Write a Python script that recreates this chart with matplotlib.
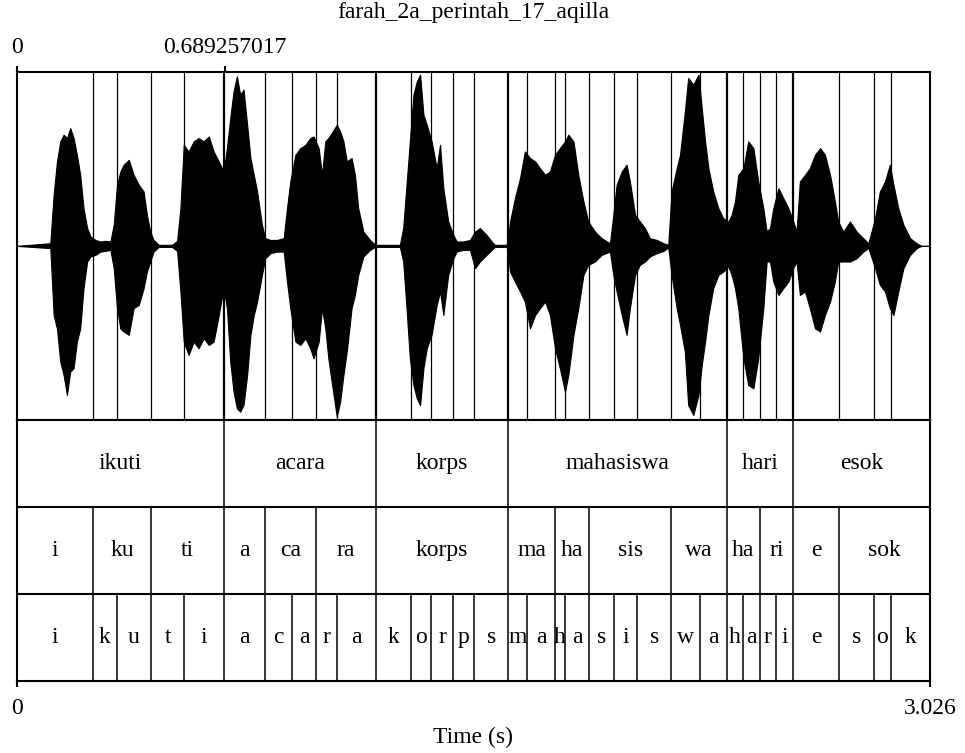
import matplotlib
matplotlib.use("Agg")
import matplotlib.pyplot as plt

plt.rcParams['font.family'] = ['Liberation Serif', 'DejaVu Serif']

title = "farah_2a_perintah_17_aqilla"
duration = 3.026
cursor = 0.689257017

# waveform envelope: time (s), upper and lower peak
wave_t = [0.000, 0.112, 0.123, 0.134, 0.145, 0.156, 0.167, 0.178, 0.189, 0.200,
          0.211, 0.222, 0.234, 0.245, 0.261, 0.278, 0.294, 0.311, 0.322, 0.333,
          0.344, 0.355, 0.372, 0.388, 0.405, 0.421, 0.432, 0.443, 0.454, 0.471,
          0.515, 0.532, 0.543, 0.554, 0.570, 0.587, 0.603, 0.620, 0.637, 0.653,
          0.670, 0.686, 0.697, 0.708, 0.719, 0.730, 0.741, 0.752, 0.764, 0.775,
          0.786, 0.797, 0.813, 0.824, 0.841, 0.863, 0.885, 0.896, 0.907, 0.924,
          0.940, 0.957, 0.973, 0.984, 1.001, 1.012, 1.023,
          1.033, 1.044, 1.061, 1.072, 1.083, 1.094, 1.110, 1.121, 1.132, 1.149,
          1.171, 1.188, 1.270, 1.281, 1.292, 1.303, 1.315, 1.326, 1.337, 1.348,
          1.359, 1.375, 1.392, 1.403, 1.414, 1.430, 1.447, 1.458, 1.480, 1.502,
          1.519, 1.535, 1.557, 1.574, 1.585, 1.624, 1.635, 1.651, 1.668, 1.684,
          1.701, 1.718, 1.734, 1.751, 1.767, 1.784, 1.800, 1.817, 1.828, 1.845,
          1.861, 1.878, 1.894, 1.916, 1.938, 1.966, 1.977, 1.988, 2.005, 2.021,
          2.032, 2.049, 2.065, 2.082, 2.098, 2.121, 2.143, 2.159, 2.170, 2.187,
          2.198, 2.214, 2.225, 2.242, 2.259, 2.270, 2.281, 2.292, 2.308, 2.325,
          2.341, 2.358, 2.369, 2.380, 2.391, 2.408, 2.424, 2.441, 2.457, 2.474,
          2.485, 2.496, 2.507, 2.524, 2.540, 2.557, 2.573, 2.584, 2.595, 2.612,
          2.628, 2.645, 2.662, 2.678, 2.695, 2.711, 2.722, 2.739, 2.761, 2.783,
          2.805, 2.822, 2.844, 2.860, 2.877, 2.893, 2.905, 2.921, 2.938, 2.960,
          2.982, 2.998, 3.026]
wave_hi = [0.0, 0.015, 0.293, 0.485, 0.600, 0.638, 0.619, 0.676, 0.619, 0.523,
           0.408, 0.216, 0.102, 0.054, 0.034, 0.025, 0.029, 0.025, 0.121, 0.351,
           0.427, 0.466, 0.494, 0.408, 0.351, 0.312, 0.178, 0.082, 0.034, 0.006,
           0.006, 0.029, 0.216, 0.580, 0.542, 0.600, 0.619, 0.600, 0.628, 0.542,
           0.485, 0.427, 0.561, 0.734, 0.887, 0.973, 0.868, 0.897, 0.695, 0.504,
           0.408, 0.312, 0.121, 0.044, 0.034, 0.034, 0.044, 0.216, 0.370, 0.523,
           0.561, 0.580, 0.619, 0.628, 0.561, 0.408, 0.600,
           0.619, 0.648, 0.695, 0.657, 0.600, 0.485, 0.504, 0.408, 0.216, 0.082,
           0.034, 0.006, 0.006, 0.102, 0.351, 0.600, 0.868, 0.944, 0.983, 0.753,
           0.695, 0.600, 0.446, 0.580, 0.331, 0.140, 0.063, 0.025, 0.025, 0.034,
           0.082, 0.102, 0.063, 0.025, 0.006, 0.006, 0.140, 0.274, 0.389, 0.542,
           0.504, 0.485, 0.446, 0.408, 0.427, 0.523, 0.561, 0.600, 0.638, 0.600,
           0.408, 0.255, 0.140, 0.082, 0.044, 0.015, 0.178, 0.351, 0.427, 0.466,
           0.370, 0.178, 0.140, 0.102, 0.044, 0.034, 0.015, 0.006, 0.312, 0.446,
           0.523, 0.772, 0.964, 0.925, 0.983, 0.791, 0.600, 0.446, 0.312, 0.216,
           0.159, 0.140, 0.178, 0.255, 0.408, 0.446, 0.600, 0.561, 0.370, 0.216,
           0.082, 0.102, 0.216, 0.331, 0.274, 0.216, 0.140, 0.082, 0.370, 0.408,
           0.446, 0.523, 0.561, 0.523, 0.408, 0.255, 0.140, 0.082, 0.140, 0.082,
           0.044, 0.015, 0.159, 0.312, 0.370, 0.466, 0.351, 0.216, 0.121, 0.044,
           0.015, 0.0, 0.0]
wave_lo = [0.0, -0.013, -0.397, -0.475, -0.665, -0.741, -0.856, -0.722, -0.703, -0.550,
           -0.475, -0.243, -0.090, -0.061, -0.052, -0.033, -0.029, -0.023, -0.128, -0.358,
           -0.475, -0.492, -0.511, -0.358, -0.339, -0.243, -0.148, -0.090, -0.033, -0.006,
           -0.006, -0.029, -0.262, -0.550, -0.626, -0.550, -0.588, -0.531, -0.569, -0.550,
           -0.397, -0.243, -0.358, -0.665, -0.837, -0.933, -0.952, -0.914, -0.741, -0.511,
           -0.397, -0.320, -0.167, -0.071, -0.042, -0.033, -0.033, -0.205, -0.358, -0.550,
           -0.569, -0.531, -0.588, -0.646, -0.550, -0.358, -0.475,
           -0.646, -0.780, -0.981, -0.895, -0.741, -0.607, -0.358, -0.282, -0.167, -0.061,
           -0.023, -0.006, -0.006, -0.090, -0.358, -0.646, -0.799, -0.875, -0.914, -0.703,
           -0.588, -0.511, -0.339, -0.262, -0.397, -0.167, -0.071, -0.033, -0.023, -0.023,
           -0.128, -0.090, -0.052, -0.023, -0.006, -0.006, -0.148, -0.205, -0.262, -0.320,
           -0.473, -0.397, -0.358, -0.320, -0.397, -0.588, -0.703, -0.837, -0.741, -0.511,
           -0.358, -0.167, -0.109, -0.090, -0.052, -0.033, -0.167, -0.262, -0.397, -0.511,
           -0.358, -0.167, -0.109, -0.090, -0.061, -0.042, -0.029, -0.010, -0.167, -0.358,
           -0.454, -0.607, -0.914, -0.971, -0.856, -0.684, -0.550, -0.397, -0.243, -0.167,
           -0.148, -0.119, -0.167, -0.243, -0.358, -0.646, -0.799, -0.818, -0.646, -0.358,
           -0.090, -0.090, -0.205, -0.282, -0.243, -0.205, -0.128, -0.090, -0.282, -0.262,
           -0.358, -0.473, -0.492, -0.397, -0.320, -0.205, -0.090, -0.090, -0.090, -0.071,
           -0.033, -0.013, -0.128, -0.224, -0.262, -0.358, -0.397, -0.262, -0.128, -0.052,
           -0.013, 0.0, 0.0]

# TextGrid tiers: boundaries (s) and interval labels
word_bounds = [0.689, 1.190, 1.629, 2.353, 2.573]
word_labels = ["ikuti", "acara", "korps", "mahasiswa", "hari", "esok"]

syl_bounds = [0.253, 0.446, 0.689, 0.823, 0.991, 1.190, 1.629, 1.783, 1.897,
              2.169, 2.353, 2.462, 2.573, 2.726]
syl_labels = ["i", "ku", "ti", "a", "ca", "ra", "korps", "ma", "ha", "sis",
              "wa", "ha", "ri", "e", "sok"]

phone_bounds = [0.253, 0.332, 0.446, 0.555, 0.689, 0.823, 0.914, 0.991, 1.063,
                1.190, 1.307, 1.373, 1.447, 1.516, 1.629, 1.692, 1.783, 1.818,
                1.897, 1.980, 2.056, 2.169, 2.264, 2.353, 2.407, 2.462, 2.516,
                2.573, 2.726, 2.839, 2.897]
phone_labels = ["i", "k", "u", "t", "i", "a", "c", "a", "r", "a", "k", "o", "r",
                "p", "s", "m", "a", "h", "a", "s", "i", "s", "w", "a", "h", "a",
                "r", "i", "e", "s", "o", "k"]

fs = 17
fig = plt.figure(figsize=(9.65, 7.53), dpi=100)

# waveform panel
axw = fig.add_axes([0.0171, 0.4422, 0.9466, 0.4626])
axw.fill_between(wave_t, wave_lo, wave_hi, color='black', linewidth=0.8)
for b in phone_bounds:
    lw = 1.6 if b in word_bounds else 0.9
    axw.axvline(b, color='black', linewidth=lw)
axw.set_xlim(0, duration)
axw.set_ylim(-1, 1)
axw.set_yticks([])
axw.xaxis.tick_top()
axw.set_xticks([0, cursor])
axw.set_xticklabels(["0", "0.689257017"], fontsize=fs)
axw.tick_params(axis='x', direction='out', length=4, width=1.5, pad=6)
for s in axw.spines.values():
    s.set_linewidth(1.5)
fig.text(0.49, 0.984, title, fontsize=fs, ha='center', va='center')

# tier panel
axt = fig.add_axes([0.0171, 0.0956, 0.9466, 0.3466])
axt.set_xlim(0, duration)
axt.set_ylim(0, 3)
axt.axhline(1, color='black', linewidth=1.5)
axt.axhline(2, color='black', linewidth=1.5)

tiers = [(word_bounds, word_labels, 2), (syl_bounds, syl_labels, 1),
         (phone_bounds, phone_labels, 0)]
for bounds, labels, y0 in tiers:
    axt.vlines(bounds, y0, y0 + 1, color='black', linewidth=1.1)
    edges = [0] + bounds + [duration]
    for i, lab in enumerate(labels):
        axt.text((edges[i] + edges[i + 1]) / 2, y0 + 0.5, lab, fontsize=fs,
                 ha='center', va='center')

axt.set_yticks([])
axt.set_xticks([0, duration])
axt.set_xticklabels(["0", "3.026"], fontsize=fs)
axt.tick_params(axis='x', direction='out', length=4, width=1.5, pad=8)
axt.set_xlabel("Time (s)", fontsize=fs, labelpad=6)
for s in axt.spines.values():
    s.set_linewidth(1.5)

fig.savefig("out.png", dpi=100)
